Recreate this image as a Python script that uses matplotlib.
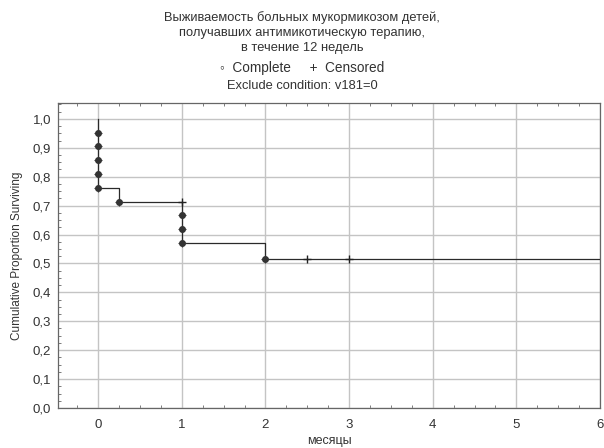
import matplotlib
matplotlib.use("Agg")
import matplotlib.pyplot as plt
from matplotlib.ticker import MultipleLocator

plt.rcParams['font.family'] = ['Liberation Sans', 'DejaVu Sans']

# Kaplan-Meier step curve
step_t = [0, 0, 0.25, 0.25, 1, 1, 2, 2, 6]
step_s = [1.0, 0.762, 0.762, 0.714, 0.714, 0.571, 0.571, 0.514, 0.514]
# complete (event) points
comp_t = [0, 0, 0, 0, 0, 0.25, 1, 1, 1, 2]
comp_s = [0.952, 0.905, 0.857, 0.810, 0.762, 0.714, 0.667, 0.619, 0.571, 0.514]
# censored points
cens_t = [1, 2.5, 3]
cens_s = [0.714, 0.514, 0.514]

xticks = [0, 1, 2, 3, 4, 5, 6]
yticks = [0.0, 0.1, 0.2, 0.3, 0.4, 0.5, 0.6, 0.7, 0.8, 0.9, 1.0]

fig = plt.figure(figsize=(6.04, 4.48), dpi=100)
ax = fig.add_axes([58/604, 40/448, 542/604, 305/448])

ax.plot(step_t, step_s, color='#2a2a2a', lw=0.9, zorder=3)
ax.plot(comp_t, comp_s, 'o', color='#333333', ms=4, zorder=4)
ax.plot(comp_t, comp_s, '+', color='#333333', ms=6, mew=0.8, zorder=4)
ax.plot(cens_t, cens_s, '+', color='#222222', ms=6, mew=1.0, zorder=4)

ax.set_xlim(-0.48, 6)
ax.set_ylim(0, 1.055)
ax.set_xticks(xticks)
ax.set_yticks(yticks)
ax.set_yticklabels([f"{v:.1f}".replace('.', ',') for v in yticks])
ax.xaxis.set_minor_locator(MultipleLocator(0.25))
ax.yaxis.set_minor_locator(MultipleLocator(0.025))
ax.grid(True, which='major', color='#c4c4c4', lw=1.0)
ax.set_axisbelow(True)
for s in ax.spines.values():
    s.set_color('#666666')
    s.set_linewidth(0.9)
ax.tick_params(which='both', direction='in', colors='#666666', labelcolor='#333333',
               labelsize=9.5, top=True, right=False)
ax.tick_params(which='major', length=0)
ax.tick_params(which='minor', length=2)
ax.tick_params(axis='x', pad=8)
ax.tick_params(axis='y', pad=5)

ax.set_xlabel('месяцы', fontsize=9, color='#333333', labelpad=3)
ax.set_ylabel('Cumulative Proportion Surviving', fontsize=8.5, color='#333333', labelpad=7)

tkw = dict(ha='center', va='center', fontsize=9.3, color='#333333')
fig.text(0.5, 1 - 18/448, 'Выживаемость больных мукормикозом детей,', **tkw)
fig.text(0.5, 1 - 33/448, 'получавших антимикотическую терапию,', **tkw)
fig.text(0.5, 1 - 48/448, 'в течение 12 недель', **tkw)
fig.text(0.5, 1 - 68/448, '\u25e6  Complete     +  Censored', ha='center', va='center', fontsize=9.8, color='#333333')
fig.text(0.5, 1 - 86/448, 'Exclude condition: v181=0', **tkw)

fig.savefig('out.png', dpi=100)
